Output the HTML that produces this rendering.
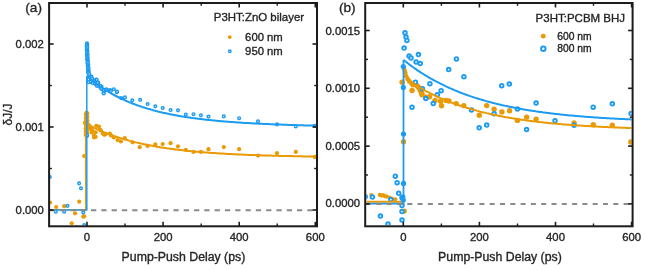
<!DOCTYPE html>
<html><head><meta charset="utf-8"><style>
html,body{margin:0;padding:0;background:#fff;width:645px;height:270px;overflow:hidden}
svg{display:block;filter:blur(0.3px)}
text{font-family:"Liberation Sans",sans-serif;fill:#262626;stroke:#262626;stroke-width:0.35px}
</style></head><body>
<svg width="645" height="270" viewBox="0 0 645 270">
<defs><clipPath id="ca"><rect x="50" y="4" width="266" height="221.3"/></clipPath><clipPath id="cb"><rect x="366.2" y="4" width="265.4" height="221.3"/></clipPath></defs>
<rect width="645" height="270" fill="#fff"/>
<g clip-path="url(#ca)"><circle cx="50.0" cy="202.5" r="2.1" fill="#E99A05"/><circle cx="56.2" cy="207.0" r="2.1" fill="#E99A05"/><circle cx="64.2" cy="206.2" r="2.1" fill="#E99A05"/><circle cx="79.2" cy="201.7" r="2.1" fill="#E99A05"/><circle cx="75.0" cy="213.3" r="2.1" fill="#E99A05"/><circle cx="71.7" cy="223.3" r="2.1" fill="#E99A05"/><circle cx="83.3" cy="216.7" r="2.1" fill="#E99A05"/><circle cx="84.2" cy="216.3" r="2.1" fill="#E99A05"/><circle cx="85.0" cy="122.8" r="2.1" fill="#E99A05"/><circle cx="84.2" cy="156.0" r="2.1" fill="#E99A05"/><circle cx="88.8" cy="125.0" r="2.1" fill="#E99A05"/><circle cx="89.5" cy="128.5" r="2.1" fill="#E99A05"/><circle cx="90.9" cy="127.3" r="2.1" fill="#E99A05"/><circle cx="92.4" cy="130.2" r="2.1" fill="#E99A05"/><circle cx="91.6" cy="132.4" r="2.1" fill="#E99A05"/><circle cx="93.9" cy="135.4" r="2.1" fill="#E99A05"/><circle cx="94.1" cy="137.5" r="2.1" fill="#E99A05"/><circle cx="96.3" cy="125.8" r="2.1" fill="#E99A05"/><circle cx="98.9" cy="126.5" r="2.1" fill="#E99A05"/><circle cx="95.6" cy="132.3" r="2.1" fill="#E99A05"/><circle cx="95.6" cy="136.9" r="2.1" fill="#E99A05"/><circle cx="100.8" cy="130.4" r="2.1" fill="#E99A05"/><circle cx="102.8" cy="133.6" r="2.1" fill="#E99A05"/><circle cx="105.4" cy="134.3" r="2.1" fill="#E99A05"/><circle cx="109.9" cy="133.6" r="2.1" fill="#E99A05"/><circle cx="113.8" cy="137.5" r="2.1" fill="#E99A05"/><circle cx="117.7" cy="140.1" r="2.1" fill="#E99A05"/><circle cx="120.9" cy="141.4" r="2.1" fill="#E99A05"/><circle cx="124.8" cy="138.2" r="2.1" fill="#E99A05"/><circle cx="132.6" cy="142.3" r="2.1" fill="#E99A05"/><circle cx="139.7" cy="147.2" r="2.1" fill="#E99A05"/><circle cx="147.5" cy="145.9" r="2.1" fill="#E99A05"/><circle cx="155.3" cy="144.4" r="2.1" fill="#E99A05"/><circle cx="162.7" cy="144.0" r="2.1" fill="#E99A05"/><circle cx="99.8" cy="129.5" r="2.1" fill="#E99A05"/><circle cx="104.2" cy="134.7" r="2.1" fill="#E99A05"/><circle cx="110.9" cy="135.4" r="2.1" fill="#E99A05"/><circle cx="170.6" cy="143.2" r="2.1" fill="#E99A05"/><circle cx="178.0" cy="146.3" r="2.1" fill="#E99A05"/><circle cx="185.8" cy="149.8" r="2.1" fill="#E99A05"/><circle cx="193.5" cy="151.9" r="2.1" fill="#E99A05"/><circle cx="200.9" cy="151.9" r="2.1" fill="#E99A05"/><circle cx="208.5" cy="149.2" r="2.1" fill="#E99A05"/><circle cx="223.8" cy="147.1" r="2.1" fill="#E99A05"/><circle cx="239.1" cy="149.2" r="2.1" fill="#E99A05"/><circle cx="258.0" cy="155.6" r="2.1" fill="#E99A05"/><circle cx="277.0" cy="153.2" r="2.1" fill="#E99A05"/><circle cx="295.8" cy="151.9" r="2.1" fill="#E99A05"/><circle cx="314.7" cy="156.9" r="2.1" fill="#E99A05"/><circle cx="86.6" cy="112.5" r="2.1" fill="#E99A05"/><circle cx="87.4" cy="113.6" r="2.1" fill="#E99A05"/><circle cx="85.8" cy="114.7" r="2.1" fill="#E99A05"/><circle cx="86.6" cy="115.9" r="2.1" fill="#E99A05"/><circle cx="87.4" cy="117.0" r="2.1" fill="#E99A05"/><circle cx="85.8" cy="118.1" r="2.1" fill="#E99A05"/><circle cx="86.6" cy="119.2" r="2.1" fill="#E99A05"/><circle cx="87.4" cy="120.3" r="2.1" fill="#E99A05"/><circle cx="85.8" cy="121.5" r="2.1" fill="#E99A05"/><circle cx="86.6" cy="122.6" r="2.1" fill="#E99A05"/><circle cx="87.4" cy="123.7" r="2.1" fill="#E99A05"/><circle cx="85.8" cy="124.8" r="2.1" fill="#E99A05"/><circle cx="86.7" cy="125.9" r="2.1" fill="#E99A05"/><circle cx="87.3" cy="127.0" r="2.1" fill="#E99A05"/><circle cx="85.8" cy="128.2" r="2.1" fill="#E99A05"/><circle cx="86.7" cy="129.3" r="2.1" fill="#E99A05"/><circle cx="87.3" cy="130.4" r="2.1" fill="#E99A05"/><circle cx="85.8" cy="131.5" r="2.1" fill="#E99A05"/><circle cx="86.7" cy="132.6" r="2.1" fill="#E99A05"/><circle cx="87.3" cy="133.8" r="2.1" fill="#E99A05"/><circle cx="85.8" cy="134.9" r="2.1" fill="#E99A05"/><circle cx="86.7" cy="136.0" r="2.1" fill="#E99A05"/><circle cx="88.0" cy="72.2" r="1.35" fill="#fff" stroke="#1C9BF2" stroke-width="1.45"/><circle cx="88.0" cy="77.4" r="1.35" fill="#fff" stroke="#1C9BF2" stroke-width="1.45"/><circle cx="90.9" cy="78.9" r="1.35" fill="#fff" stroke="#1C9BF2" stroke-width="1.45"/><circle cx="90.2" cy="81.8" r="1.35" fill="#fff" stroke="#1C9BF2" stroke-width="1.45"/><circle cx="93.9" cy="80.4" r="1.35" fill="#fff" stroke="#1C9BF2" stroke-width="1.45"/><circle cx="96.1" cy="79.6" r="1.35" fill="#fff" stroke="#1C9BF2" stroke-width="1.45"/><circle cx="95.4" cy="84.0" r="1.35" fill="#fff" stroke="#1C9BF2" stroke-width="1.45"/><circle cx="98.3" cy="82.6" r="1.35" fill="#fff" stroke="#1C9BF2" stroke-width="1.45"/><circle cx="100.5" cy="87.8" r="1.35" fill="#fff" stroke="#1C9BF2" stroke-width="1.45"/><circle cx="102.0" cy="89.2" r="1.35" fill="#fff" stroke="#1C9BF2" stroke-width="1.45"/><circle cx="104.2" cy="90.7" r="1.35" fill="#fff" stroke="#1C9BF2" stroke-width="1.45"/><circle cx="103.5" cy="92.9" r="1.35" fill="#fff" stroke="#1C9BF2" stroke-width="1.45"/><circle cx="106.4" cy="89.2" r="1.35" fill="#fff" stroke="#1C9BF2" stroke-width="1.45"/><circle cx="110.1" cy="90.0" r="1.35" fill="#fff" stroke="#1C9BF2" stroke-width="1.45"/><circle cx="113.8" cy="89.2" r="1.35" fill="#fff" stroke="#1C9BF2" stroke-width="1.45"/><circle cx="116.8" cy="92.2" r="1.35" fill="#fff" stroke="#1C9BF2" stroke-width="1.45"/><circle cx="121.2" cy="98.1" r="1.35" fill="#fff" stroke="#1C9BF2" stroke-width="1.45"/><circle cx="124.9" cy="97.4" r="1.35" fill="#fff" stroke="#1C9BF2" stroke-width="1.45"/><circle cx="132.3" cy="100.3" r="1.35" fill="#fff" stroke="#1C9BF2" stroke-width="1.45"/><circle cx="109.6" cy="90.6" r="1.35" fill="#fff" stroke="#1C9BF2" stroke-width="1.45"/><circle cx="117.0" cy="91.5" r="1.35" fill="#fff" stroke="#1C9BF2" stroke-width="1.45"/><circle cx="140.2" cy="99.8" r="1.35" fill="#fff" stroke="#1C9BF2" stroke-width="1.45"/><circle cx="147.6" cy="104.0" r="1.35" fill="#fff" stroke="#1C9BF2" stroke-width="1.45"/><circle cx="89.5" cy="75.5" r="1.35" fill="#fff" stroke="#1C9BF2" stroke-width="1.45"/><circle cx="91.5" cy="76.5" r="1.35" fill="#fff" stroke="#1C9BF2" stroke-width="1.45"/><circle cx="92.5" cy="83.0" r="1.35" fill="#fff" stroke="#1C9BF2" stroke-width="1.45"/><circle cx="97.0" cy="86.0" r="1.35" fill="#fff" stroke="#1C9BF2" stroke-width="1.45"/><circle cx="99.0" cy="85.5" r="1.35" fill="#fff" stroke="#1C9BF2" stroke-width="1.45"/><circle cx="101.5" cy="86.5" r="1.35" fill="#fff" stroke="#1C9BF2" stroke-width="1.45"/><circle cx="89.5" cy="77.5" r="1.35" fill="#fff" stroke="#1C9BF2" stroke-width="1.45"/><circle cx="90.7" cy="81.6" r="1.35" fill="#fff" stroke="#1C9BF2" stroke-width="1.45"/><circle cx="94.9" cy="83.4" r="1.35" fill="#fff" stroke="#1C9BF2" stroke-width="1.45"/><circle cx="96.7" cy="79.8" r="1.35" fill="#fff" stroke="#1C9BF2" stroke-width="1.45"/><circle cx="97.8" cy="82.8" r="1.35" fill="#fff" stroke="#1C9BF2" stroke-width="1.45"/><circle cx="100.2" cy="85.8" r="1.35" fill="#fff" stroke="#1C9BF2" stroke-width="1.45"/><circle cx="101.4" cy="88.7" r="1.35" fill="#fff" stroke="#1C9BF2" stroke-width="1.45"/><circle cx="103.8" cy="89.9" r="1.35" fill="#fff" stroke="#1C9BF2" stroke-width="1.45"/><circle cx="88.4" cy="82.2" r="1.35" fill="#fff" stroke="#1C9BF2" stroke-width="1.45"/><circle cx="92.0" cy="78.5" r="1.35" fill="#fff" stroke="#1C9BF2" stroke-width="1.45"/><circle cx="93.0" cy="81.0" r="1.35" fill="#fff" stroke="#1C9BF2" stroke-width="1.45"/><circle cx="88.6" cy="79.5" r="1.35" fill="#fff" stroke="#1C9BF2" stroke-width="1.45"/><circle cx="103.8" cy="93.4" r="1.35" fill="#fff" stroke="#1C9BF2" stroke-width="1.45"/><circle cx="106.7" cy="89.9" r="1.35" fill="#fff" stroke="#1C9BF2" stroke-width="1.45"/><circle cx="110.9" cy="91.1" r="1.35" fill="#fff" stroke="#1C9BF2" stroke-width="1.45"/><circle cx="155.3" cy="106.3" r="1.35" fill="#fff" stroke="#1C9BF2" stroke-width="1.45"/><circle cx="162.7" cy="108.0" r="1.35" fill="#fff" stroke="#1C9BF2" stroke-width="1.45"/><circle cx="170.6" cy="110.0" r="1.35" fill="#fff" stroke="#1C9BF2" stroke-width="1.45"/><circle cx="178.0" cy="110.3" r="1.35" fill="#fff" stroke="#1C9BF2" stroke-width="1.45"/><circle cx="185.8" cy="114.5" r="1.35" fill="#fff" stroke="#1C9BF2" stroke-width="1.45"/><circle cx="193.5" cy="114.2" r="1.35" fill="#fff" stroke="#1C9BF2" stroke-width="1.45"/><circle cx="200.9" cy="115.3" r="1.35" fill="#fff" stroke="#1C9BF2" stroke-width="1.45"/><circle cx="208.5" cy="116.6" r="1.35" fill="#fff" stroke="#1C9BF2" stroke-width="1.45"/><circle cx="223.8" cy="116.4" r="1.35" fill="#fff" stroke="#1C9BF2" stroke-width="1.45"/><circle cx="239.1" cy="118.2" r="1.35" fill="#fff" stroke="#1C9BF2" stroke-width="1.45"/><circle cx="258.0" cy="121.4" r="1.35" fill="#fff" stroke="#1C9BF2" stroke-width="1.45"/><circle cx="277.0" cy="124.3" r="1.35" fill="#fff" stroke="#1C9BF2" stroke-width="1.45"/><circle cx="295.8" cy="126.4" r="1.35" fill="#fff" stroke="#1C9BF2" stroke-width="1.45"/><circle cx="314.7" cy="125.8" r="1.35" fill="#fff" stroke="#1C9BF2" stroke-width="1.45"/><circle cx="79.1" cy="183.3" r="1.35" fill="#fff" stroke="#1C9BF2" stroke-width="1.45"/><circle cx="81.0" cy="188.3" r="1.35" fill="#fff" stroke="#1C9BF2" stroke-width="1.45"/><circle cx="67.5" cy="205.8" r="1.35" fill="#fff" stroke="#1C9BF2" stroke-width="1.45"/><circle cx="55.8" cy="211.7" r="1.35" fill="#fff" stroke="#1C9BF2" stroke-width="1.45"/><circle cx="64.2" cy="211.7" r="1.35" fill="#fff" stroke="#1C9BF2" stroke-width="1.45"/><circle cx="83.3" cy="212.5" r="1.35" fill="#fff" stroke="#1C9BF2" stroke-width="1.45"/><circle cx="84.2" cy="225.0" r="1.35" fill="#fff" stroke="#1C9BF2" stroke-width="1.45"/><circle cx="87.2" cy="135.4" r="1.35" fill="#fff" stroke="#1C9BF2" stroke-width="1.45"/><circle cx="49.7" cy="177.0" r="1.35" fill="#fff" stroke="#1C9BF2" stroke-width="1.45"/><circle cx="87.0" cy="43.3" r="1.35" fill="#fff" stroke="#1C9BF2" stroke-width="1.45"/><circle cx="87.3" cy="44.5" r="1.35" fill="#fff" stroke="#1C9BF2" stroke-width="1.45"/><circle cx="86.6" cy="45.8" r="1.35" fill="#fff" stroke="#1C9BF2" stroke-width="1.45"/><circle cx="87.3" cy="47.0" r="1.35" fill="#fff" stroke="#1C9BF2" stroke-width="1.45"/><circle cx="87.2" cy="48.2" r="1.35" fill="#fff" stroke="#1C9BF2" stroke-width="1.45"/><circle cx="86.7" cy="49.4" r="1.35" fill="#fff" stroke="#1C9BF2" stroke-width="1.45"/><circle cx="87.5" cy="50.7" r="1.35" fill="#fff" stroke="#1C9BF2" stroke-width="1.45"/><circle cx="87.0" cy="51.9" r="1.35" fill="#fff" stroke="#1C9BF2" stroke-width="1.45"/><circle cx="87.0" cy="53.1" r="1.35" fill="#fff" stroke="#1C9BF2" stroke-width="1.45"/><circle cx="87.7" cy="54.4" r="1.35" fill="#fff" stroke="#1C9BF2" stroke-width="1.45"/><circle cx="86.9" cy="55.6" r="1.35" fill="#fff" stroke="#1C9BF2" stroke-width="1.45"/><circle cx="87.4" cy="56.8" r="1.35" fill="#fff" stroke="#1C9BF2" stroke-width="1.45"/><circle cx="87.7" cy="58.0" r="1.35" fill="#fff" stroke="#1C9BF2" stroke-width="1.45"/><circle cx="87.0" cy="59.3" r="1.35" fill="#fff" stroke="#1C9BF2" stroke-width="1.45"/><circle cx="87.9" cy="60.5" r="1.35" fill="#fff" stroke="#1C9BF2" stroke-width="1.45"/><circle cx="87.7" cy="61.7" r="1.35" fill="#fff" stroke="#1C9BF2" stroke-width="1.45"/><circle cx="87.4" cy="62.9" r="1.35" fill="#fff" stroke="#1C9BF2" stroke-width="1.45"/><circle cx="88.3" cy="64.2" r="1.35" fill="#fff" stroke="#1C9BF2" stroke-width="1.45"/><circle cx="87.7" cy="65.4" r="1.35" fill="#fff" stroke="#1C9BF2" stroke-width="1.45"/><circle cx="87.9" cy="66.6" r="1.35" fill="#fff" stroke="#1C9BF2" stroke-width="1.45"/><circle cx="88.6" cy="67.9" r="1.35" fill="#fff" stroke="#1C9BF2" stroke-width="1.45"/><circle cx="87.9" cy="69.1" r="1.35" fill="#fff" stroke="#1C9BF2" stroke-width="1.45"/><circle cx="88.5" cy="70.3" r="1.35" fill="#fff" stroke="#1C9BF2" stroke-width="1.45"/><circle cx="88.7" cy="71.5" r="1.35" fill="#fff" stroke="#1C9BF2" stroke-width="1.45"/><circle cx="88.2" cy="72.8" r="1.35" fill="#fff" stroke="#1C9BF2" stroke-width="1.45"/><circle cx="89.2" cy="74.0" r="1.35" fill="#fff" stroke="#1C9BF2" stroke-width="1.45"/><polyline points="50,209.6 85.6,209.6 85.6,124.1" fill="none" stroke="#E99A05" stroke-width="1.3"/><polyline points="87.0,124.1 88.0,124.6 89.0,125.2 90.0,125.7 91.0,126.2 92.0,126.7 93.0,127.2 94.0,127.7 95.0,128.2 96.0,128.6 97.0,129.1 98.0,129.6 99.0,130.0 100.0,130.5 101.0,130.9 102.0,131.3 103.0,131.8 104.0,132.2 105.0,132.6 106.0,133.0 107.0,133.4 108.0,133.8 109.0,134.1 110.0,134.5 111.0,134.9 112.0,135.2 113.0,135.6 114.0,136.0 115.0,136.3 116.0,136.6 117.0,137.0 118.0,137.3 119.0,137.6 120.0,137.9 121.0,138.3 122.0,138.6 123.0,138.9 124.0,139.2 125.0,139.5 126.0,139.8 127.0,140.0 128.0,140.3 129.0,140.6 130.0,140.9 131.0,141.1 132.0,141.4 133.0,141.6 134.0,141.9 135.0,142.1 136.0,142.4 137.0,142.6 138.0,142.9 139.0,143.1 140.0,143.3 141.0,143.6 142.0,143.8 143.0,144.0 144.0,144.2 145.0,144.4 146.0,144.6 147.0,144.8 148.0,145.0 149.0,145.2 150.0,145.4 151.0,145.6 152.0,145.8 153.0,146.0 154.0,146.2 155.0,146.3 156.0,146.5 157.0,146.7 158.0,146.9 159.0,147.0 160.0,147.2 161.0,147.4 162.0,147.5 163.0,147.7 164.0,147.8 165.0,148.0 166.0,148.1 167.0,148.3 168.0,148.4 169.0,148.6 170.0,148.7 171.0,148.8 172.0,149.0 173.0,149.1 174.0,149.2 175.0,149.4 176.0,149.5 177.0,149.6 178.0,149.7 179.0,149.9 180.0,150.0 181.0,150.1 182.0,150.2 183.0,150.3 184.0,150.4 185.0,150.6 186.0,150.7 187.0,150.8 188.0,150.9 189.0,151.0 190.0,151.1 191.0,151.2 192.0,151.3 193.0,151.4 194.0,151.5 195.0,151.6 196.0,151.7 197.0,151.7 198.0,151.8 199.0,151.9 200.0,152.0 201.0,152.1 202.0,152.2 203.0,152.3 204.0,152.3 205.0,152.4 206.0,152.5 207.0,152.6 208.0,152.6 209.0,152.7 210.0,152.8 211.0,152.9 212.0,152.9 213.0,153.0 214.0,153.1 215.0,153.1 216.0,153.2 217.0,153.3 218.0,153.3 219.0,153.4 220.0,153.5 221.0,153.5 222.0,153.6 223.0,153.6 224.0,153.7 225.0,153.8 226.0,153.8 227.0,153.9 228.0,153.9 229.0,154.0 230.0,154.0 231.0,154.1 232.0,154.1 233.0,154.2 234.0,154.2 235.0,154.3 236.0,154.3 237.0,154.4 238.0,154.4 239.0,154.5 240.0,154.5 241.0,154.6 242.0,154.6 243.0,154.7 244.0,154.7 245.0,154.7 246.0,154.8 247.0,154.8 248.0,154.9 249.0,154.9 250.0,154.9 251.0,155.0 252.0,155.0 253.0,155.1 254.0,155.1 255.0,155.1 256.0,155.2 257.0,155.2 258.0,155.2 259.0,155.3 260.0,155.3 261.0,155.3 262.0,155.4 263.0,155.4 264.0,155.4 265.0,155.5 266.0,155.5 267.0,155.5 268.0,155.6 269.0,155.6 270.0,155.6 271.0,155.6 272.0,155.7 273.0,155.7 274.0,155.7 275.0,155.8 276.0,155.8 277.0,155.8 278.0,155.8 279.0,155.9 280.0,155.9 281.0,155.9 282.0,155.9 283.0,156.0 284.0,156.0 285.0,156.0 286.0,156.0 287.0,156.0 288.0,156.1 289.0,156.1 290.0,156.1 291.0,156.1 292.0,156.1 293.0,156.2 294.0,156.2 295.0,156.2 296.0,156.2 297.0,156.2 298.0,156.3 299.0,156.3 300.0,156.3 301.0,156.3 302.0,156.3 303.0,156.4 304.0,156.4 305.0,156.4 306.0,156.4 307.0,156.4 308.0,156.4 309.0,156.5 310.0,156.5 311.0,156.5 312.0,156.5 313.0,156.5 314.0,156.5 315.0,156.6 316.0,156.6" fill="none" stroke="#E99A05" stroke-width="2.0"/><polyline points="50,210 86.8,210 86.8,76.3" fill="none" stroke="#1C9BF2" stroke-width="1.5"/><polyline points="87.0,76.3 88.0,77.1 89.0,78.0 90.0,78.8 91.0,79.6 92.0,80.4 93.0,81.2 94.0,82.0 95.0,82.8 96.0,83.5 97.0,84.2 98.0,85.0 99.0,85.7 100.0,86.4 101.0,87.1 102.0,87.7 103.0,88.4 104.0,89.0 105.0,89.7 106.0,90.3 107.0,90.9 108.0,91.5 109.0,92.1 110.0,92.7 111.0,93.3 112.0,93.9 113.0,94.4 114.0,95.0 115.0,95.5 116.0,96.0 117.0,96.5 118.0,97.0 119.0,97.5 120.0,98.0 121.0,98.5 122.0,99.0 123.0,99.4 124.0,99.9 125.0,100.3 126.0,100.8 127.0,101.2 128.0,101.6 129.0,102.1 130.0,102.5 131.0,102.9 132.0,103.3 133.0,103.7 134.0,104.0 135.0,104.4 136.0,104.8 137.0,105.2 138.0,105.5 139.0,105.9 140.0,106.2 141.0,106.5 142.0,106.9 143.0,107.2 144.0,107.5 145.0,107.8 146.0,108.1 147.0,108.5 148.0,108.8 149.0,109.0 150.0,109.3 151.0,109.6 152.0,109.9 153.0,110.2 154.0,110.4 155.0,110.7 156.0,111.0 157.0,111.2 158.0,111.5 159.0,111.7 160.0,112.0 161.0,112.2 162.0,112.4 163.0,112.7 164.0,112.9 165.0,113.1 166.0,113.3 167.0,113.6 168.0,113.8 169.0,114.0 170.0,114.2 171.0,114.4 172.0,114.6 173.0,114.8 174.0,115.0 175.0,115.2 176.0,115.3 177.0,115.5 178.0,115.7 179.0,115.9 180.0,116.1 181.0,116.2 182.0,116.4 183.0,116.6 184.0,116.7 185.0,116.9 186.0,117.0 187.0,117.2 188.0,117.3 189.0,117.5 190.0,117.6 191.0,117.8 192.0,117.9 193.0,118.1 194.0,118.2 195.0,118.3 196.0,118.5 197.0,118.6 198.0,118.7 199.0,118.8 200.0,119.0 201.0,119.1 202.0,119.2 203.0,119.3 204.0,119.4 205.0,119.6 206.0,119.7 207.0,119.8 208.0,119.9 209.0,120.0 210.0,120.1 211.0,120.2 212.0,120.3 213.0,120.4 214.0,120.5 215.0,120.6 216.0,120.7 217.0,120.8 218.0,120.9 219.0,121.0 220.0,121.1 221.0,121.2 222.0,121.2 223.0,121.3 224.0,121.4 225.0,121.5 226.0,121.6 227.0,121.7 228.0,121.7 229.0,121.8 230.0,121.9 231.0,122.0 232.0,122.0 233.0,122.1 234.0,122.2 235.0,122.3 236.0,122.3 237.0,122.4 238.0,122.5 239.0,122.5 240.0,122.6 241.0,122.7 242.0,122.7 243.0,122.8 244.0,122.9 245.0,122.9 246.0,123.0 247.0,123.0 248.0,123.1 249.0,123.1 250.0,123.2 251.0,123.3 252.0,123.3 253.0,123.4 254.0,123.4 255.0,123.5 256.0,123.5 257.0,123.6 258.0,123.6 259.0,123.7 260.0,123.7 261.0,123.8 262.0,123.8 263.0,123.9 264.0,123.9 265.0,124.0 266.0,124.0 267.0,124.1 268.0,124.1 269.0,124.1 270.0,124.2 271.0,124.2 272.0,124.3 273.0,124.3 274.0,124.4 275.0,124.4 276.0,124.4 277.0,124.5 278.0,124.5 279.0,124.5 280.0,124.6 281.0,124.6 282.0,124.7 283.0,124.7 284.0,124.7 285.0,124.8 286.0,124.8 287.0,124.8 288.0,124.9 289.0,124.9 290.0,124.9 291.0,125.0 292.0,125.0 293.0,125.0 294.0,125.1 295.0,125.1 296.0,125.1 297.0,125.2 298.0,125.2 299.0,125.2 300.0,125.2 301.0,125.3 302.0,125.3 303.0,125.3 304.0,125.4 305.0,125.4 306.0,125.4 307.0,125.4 308.0,125.5 309.0,125.5 310.0,125.5 311.0,125.6 312.0,125.6 313.0,125.6 314.0,125.6 315.0,125.7 316.0,125.7" fill="none" stroke="#1C9BF2" stroke-width="2.0"/></g><g clip-path="url(#cb)"><circle cx="415.5" cy="84.4" r="2.7" fill="#E99A05"/><circle cx="417.3" cy="85.9" r="2.7" fill="#E99A05"/><circle cx="418.7" cy="87.4" r="2.7" fill="#E99A05"/><circle cx="412.1" cy="90.4" r="2.7" fill="#E99A05"/><circle cx="420.2" cy="90.4" r="2.7" fill="#E99A05"/><circle cx="421.7" cy="93.3" r="2.7" fill="#E99A05"/><circle cx="402.1" cy="82.2" r="2.7" fill="#E99A05"/><circle cx="422.0" cy="94.8" r="2.7" fill="#E99A05"/><circle cx="429.5" cy="96.7" r="2.7" fill="#E99A05"/><circle cx="425.8" cy="97.2" r="2.7" fill="#E99A05"/><circle cx="435.0" cy="100.4" r="2.7" fill="#E99A05"/><circle cx="440.6" cy="101.3" r="2.7" fill="#E99A05"/><circle cx="446.0" cy="100.4" r="2.7" fill="#E99A05"/><circle cx="441.5" cy="105.7" r="2.7" fill="#E99A05"/><circle cx="456.2" cy="103.6" r="2.7" fill="#E99A05"/><circle cx="463.8" cy="105.6" r="2.7" fill="#E99A05"/><circle cx="479.3" cy="115.2" r="2.7" fill="#E99A05"/><circle cx="486.7" cy="105.6" r="2.7" fill="#E99A05"/><circle cx="494.1" cy="109.3" r="2.7" fill="#E99A05"/><circle cx="501.9" cy="111.9" r="2.7" fill="#E99A05"/><circle cx="509.6" cy="110.7" r="2.7" fill="#E99A05"/><circle cx="517.4" cy="120.4" r="2.7" fill="#E99A05"/><circle cx="526.7" cy="117.1" r="2.7" fill="#E99A05"/><circle cx="536.1" cy="119.1" r="2.7" fill="#E99A05"/><circle cx="574.1" cy="123.0" r="2.7" fill="#E99A05"/><circle cx="593.2" cy="124.7" r="2.7" fill="#E99A05"/><circle cx="612.3" cy="125.2" r="2.7" fill="#E99A05"/><circle cx="630.8" cy="142.0" r="2.7" fill="#E99A05"/><circle cx="448.9" cy="101.0" r="2.7" fill="#E99A05"/><circle cx="403.5" cy="141.8" r="2.7" fill="#E99A05"/><circle cx="404.2" cy="211.1" r="2.7" fill="#E99A05"/><circle cx="403.9" cy="68.1" r="2.2" fill="#E99A05"/><circle cx="404.7" cy="70.4" r="2.2" fill="#E99A05"/><circle cx="405.4" cy="72.6" r="2.2" fill="#E99A05"/><circle cx="406.1" cy="76.3" r="2.2" fill="#E99A05"/><circle cx="407.6" cy="79.3" r="2.2" fill="#E99A05"/><circle cx="409.1" cy="81.5" r="2.2" fill="#E99A05"/><circle cx="411.3" cy="83.7" r="2.2" fill="#E99A05"/><circle cx="412.8" cy="85.2" r="2.2" fill="#E99A05"/><circle cx="371.3" cy="195.1" r="2.1" fill="#E99A05"/><circle cx="379.8" cy="194.9" r="2.1" fill="#E99A05"/><circle cx="381.6" cy="195.6" r="2.1" fill="#E99A05"/><circle cx="383.1" cy="195.1" r="2.1" fill="#E99A05"/><circle cx="384.9" cy="196.2" r="2.1" fill="#E99A05"/><circle cx="386.9" cy="196.7" r="2.1" fill="#E99A05"/><circle cx="389.8" cy="197.8" r="2.1" fill="#E99A05"/><circle cx="392.0" cy="198.9" r="2.1" fill="#E99A05"/><circle cx="395.3" cy="199.3" r="2.1" fill="#E99A05"/><circle cx="405.0" cy="32.8" r="1.8" fill="#fff" stroke="#1C9BF2" stroke-width="1.9"/><circle cx="406.0" cy="37.0" r="1.8" fill="#fff" stroke="#1C9BF2" stroke-width="1.9"/><circle cx="406.9" cy="40.4" r="1.8" fill="#fff" stroke="#1C9BF2" stroke-width="1.9"/><circle cx="404.1" cy="48.1" r="1.8" fill="#fff" stroke="#1C9BF2" stroke-width="1.9"/><circle cx="409.1" cy="56.1" r="1.8" fill="#fff" stroke="#1C9BF2" stroke-width="1.9"/><circle cx="411.0" cy="58.0" r="1.8" fill="#fff" stroke="#1C9BF2" stroke-width="1.9"/><circle cx="418.4" cy="54.6" r="1.8" fill="#fff" stroke="#1C9BF2" stroke-width="1.9"/><circle cx="416.1" cy="62.0" r="1.8" fill="#fff" stroke="#1C9BF2" stroke-width="1.9"/><circle cx="420.2" cy="63.5" r="1.8" fill="#fff" stroke="#1C9BF2" stroke-width="1.9"/><circle cx="412.0" cy="107.2" r="1.8" fill="#fff" stroke="#1C9BF2" stroke-width="1.9"/><circle cx="415.4" cy="82.2" r="1.8" fill="#fff" stroke="#1C9BF2" stroke-width="1.9"/><circle cx="422.4" cy="88.7" r="1.8" fill="#fff" stroke="#1C9BF2" stroke-width="1.9"/><circle cx="429.9" cy="83.7" r="1.8" fill="#fff" stroke="#1C9BF2" stroke-width="1.9"/><circle cx="441.1" cy="90.7" r="1.8" fill="#fff" stroke="#1C9BF2" stroke-width="1.9"/><circle cx="437.3" cy="94.8" r="1.8" fill="#fff" stroke="#1C9BF2" stroke-width="1.9"/><circle cx="425.8" cy="98.5" r="1.8" fill="#fff" stroke="#1C9BF2" stroke-width="1.9"/><circle cx="433.2" cy="103.5" r="1.8" fill="#fff" stroke="#1C9BF2" stroke-width="1.9"/><circle cx="456.4" cy="58.9" r="1.8" fill="#fff" stroke="#1C9BF2" stroke-width="1.9"/><circle cx="448.7" cy="69.6" r="1.8" fill="#fff" stroke="#1C9BF2" stroke-width="1.9"/><circle cx="463.9" cy="76.7" r="1.8" fill="#fff" stroke="#1C9BF2" stroke-width="1.9"/><circle cx="471.5" cy="110.0" r="1.8" fill="#fff" stroke="#1C9BF2" stroke-width="1.9"/><circle cx="494.1" cy="113.7" r="1.8" fill="#fff" stroke="#1C9BF2" stroke-width="1.9"/><circle cx="479.2" cy="127.8" r="1.8" fill="#fff" stroke="#1C9BF2" stroke-width="1.9"/><circle cx="486.7" cy="125.1" r="1.8" fill="#fff" stroke="#1C9BF2" stroke-width="1.9"/><circle cx="501.7" cy="85.7" r="1.8" fill="#fff" stroke="#1C9BF2" stroke-width="1.9"/><circle cx="509.3" cy="84.0" r="1.8" fill="#fff" stroke="#1C9BF2" stroke-width="1.9"/><circle cx="517.4" cy="109.0" r="1.8" fill="#fff" stroke="#1C9BF2" stroke-width="1.9"/><circle cx="526.6" cy="129.5" r="1.8" fill="#fff" stroke="#1C9BF2" stroke-width="1.9"/><circle cx="536.1" cy="103.1" r="1.8" fill="#fff" stroke="#1C9BF2" stroke-width="1.9"/><circle cx="555.0" cy="120.8" r="1.8" fill="#fff" stroke="#1C9BF2" stroke-width="1.9"/><circle cx="574.1" cy="125.3" r="1.8" fill="#fff" stroke="#1C9BF2" stroke-width="1.9"/><circle cx="593.2" cy="107.2" r="1.8" fill="#fff" stroke="#1C9BF2" stroke-width="1.9"/><circle cx="612.3" cy="103.8" r="1.8" fill="#fff" stroke="#1C9BF2" stroke-width="1.9"/><circle cx="631.1" cy="113.6" r="1.8" fill="#fff" stroke="#1C9BF2" stroke-width="1.9"/><circle cx="395.3" cy="176.2" r="1.8" fill="#fff" stroke="#1C9BF2" stroke-width="1.9"/><circle cx="397.1" cy="182.7" r="1.8" fill="#fff" stroke="#1C9BF2" stroke-width="1.9"/><circle cx="398.7" cy="193.3" r="1.8" fill="#fff" stroke="#1C9BF2" stroke-width="1.9"/><circle cx="365.3" cy="196.7" r="1.8" fill="#fff" stroke="#1C9BF2" stroke-width="1.9"/><circle cx="372.4" cy="197.1" r="1.8" fill="#fff" stroke="#1C9BF2" stroke-width="1.9"/><circle cx="390.9" cy="199.6" r="1.8" fill="#fff" stroke="#1C9BF2" stroke-width="1.9"/><circle cx="402.0" cy="197.8" r="1.8" fill="#fff" stroke="#1C9BF2" stroke-width="1.9"/><circle cx="402.0" cy="205.6" r="1.8" fill="#fff" stroke="#1C9BF2" stroke-width="1.9"/><circle cx="402.0" cy="211.6" r="1.8" fill="#fff" stroke="#1C9BF2" stroke-width="1.9"/><circle cx="380.4" cy="216.0" r="1.8" fill="#fff" stroke="#1C9BF2" stroke-width="1.9"/><circle cx="388.0" cy="224.0" r="1.8" fill="#fff" stroke="#1C9BF2" stroke-width="1.9"/><circle cx="402.0" cy="220.0" r="1.8" fill="#fff" stroke="#1C9BF2" stroke-width="1.9"/><polyline points="366.5,201.7 403.5,201.7" fill="none" stroke="#E99A05" stroke-width="2.0"/><polyline points="403.5,201.7 403.5,65.0" fill="none" stroke="#E99A05" stroke-width="1.0"/><polyline points="403.5,65.0 404.5,69.1 405.5,72.1 406.5,74.6 407.5,76.5 408.5,78.1 409.5,79.5 410.5,80.6 411.5,81.6 412.5,82.5 413.5,83.3 414.5,84.1 415.5,84.8 416.5,85.5 417.5,86.2 418.5,86.8 419.5,87.4 420.5,88.0 421.5,88.6 422.5,89.2 423.5,89.7 424.5,90.3 425.5,90.8 426.5,91.4 427.5,91.9 428.5,92.4 429.5,92.9 430.5,93.4 431.5,93.9 432.5,94.4 433.5,94.9 434.5,95.4 435.5,95.9 436.5,96.3 437.5,96.8 438.5,97.2 439.5,97.7 440.5,98.1 441.5,98.6 442.5,99.0 443.5,99.4 444.5,99.8 445.5,100.2 446.5,100.6 447.5,101.0 448.5,101.4 449.5,101.8 450.5,102.2 451.5,102.6 452.5,103.0 453.5,103.3 454.5,103.7 455.5,104.1 456.5,104.4 457.5,104.8 458.5,105.1 459.5,105.5 460.5,105.8 461.5,106.1 462.5,106.5 463.5,106.8 464.5,107.1 465.5,107.4 466.5,107.7 467.5,108.0 468.5,108.3 469.5,108.6 470.5,108.9 471.5,109.2 472.5,109.5 473.5,109.8 474.5,110.1 475.5,110.3 476.5,110.6 477.5,110.9 478.5,111.1 479.5,111.4 480.5,111.7 481.5,111.9 482.5,112.2 483.5,112.4 484.5,112.6 485.5,112.9 486.5,113.1 487.5,113.4 488.5,113.6 489.5,113.8 490.5,114.0 491.5,114.3 492.5,114.5 493.5,114.7 494.5,114.9 495.5,115.1 496.5,115.3 497.5,115.5 498.5,115.7 499.5,115.9 500.5,116.1 501.5,116.3 502.5,116.5 503.5,116.7 504.5,116.9 505.5,117.1 506.5,117.2 507.5,117.4 508.5,117.6 509.5,117.8 510.5,117.9 511.5,118.1 512.5,118.3 513.5,118.4 514.5,118.6 515.5,118.8 516.5,118.9 517.5,119.1 518.5,119.2 519.5,119.4 520.5,119.5 521.5,119.7 522.5,119.8 523.5,120.0 524.5,120.1 525.5,120.2 526.5,120.4 527.5,120.5 528.5,120.7 529.5,120.8 530.5,120.9 531.5,121.0 532.5,121.2 533.5,121.3 534.5,121.4 535.5,121.5 536.5,121.7 537.5,121.8 538.5,121.9 539.5,122.0 540.5,122.1 541.5,122.2 542.5,122.3 543.5,122.5 544.5,122.6 545.5,122.7 546.5,122.8 547.5,122.9 548.5,123.0 549.5,123.1 550.5,123.2 551.5,123.3 552.5,123.4 553.5,123.5 554.5,123.6 555.5,123.7 556.5,123.8 557.5,123.8 558.5,123.9 559.5,124.0 560.5,124.1 561.5,124.2 562.5,124.3 563.5,124.4 564.5,124.4 565.5,124.5 566.5,124.6 567.5,124.7 568.5,124.8 569.5,124.8 570.5,124.9 571.5,125.0 572.5,125.1 573.5,125.1 574.5,125.2 575.5,125.3 576.5,125.3 577.5,125.4 578.5,125.5 579.5,125.6 580.5,125.6 581.5,125.7 582.5,125.7 583.5,125.8 584.5,125.9 585.5,125.9 586.5,126.0 587.5,126.1 588.5,126.1 589.5,126.2 590.5,126.2 591.5,126.3 592.5,126.3 593.5,126.4 594.5,126.5 595.5,126.5 596.5,126.6 597.5,126.6 598.5,126.7 599.5,126.7 600.5,126.8 601.5,126.8 602.5,126.9 603.5,126.9 604.5,127.0 605.5,127.0 606.5,127.1 607.5,127.1 608.5,127.2 609.5,127.2 610.5,127.2 611.5,127.3 612.5,127.3 613.5,127.4 614.5,127.4 615.5,127.5 616.5,127.5 617.5,127.5 618.5,127.6 619.5,127.6 620.5,127.7 621.5,127.7 622.5,127.7 623.5,127.8 624.5,127.8 625.5,127.8 626.5,127.9 627.5,127.9 628.5,127.9 629.5,128.0 630.5,128.0 631.5,128.0" fill="none" stroke="#E99A05" stroke-width="2.0"/><polyline points="366.5,203.7 403.5,203.7 403.5,59.9" fill="none" stroke="#1C9BF2" stroke-width="1.8"/><polyline points="403.5,59.9 404.5,60.7 405.5,61.5 406.5,62.3 407.5,63.1 408.5,63.8 409.5,64.6 410.5,65.3 411.5,66.1 412.5,66.8 413.5,67.5 414.5,68.2 415.5,68.9 416.5,69.6 417.5,70.3 418.5,70.9 419.5,71.6 420.5,72.3 421.5,72.9 422.5,73.5 423.5,74.2 424.5,74.8 425.5,75.4 426.5,76.0 427.5,76.6 428.5,77.2 429.5,77.8 430.5,78.4 431.5,78.9 432.5,79.5 433.5,80.0 434.5,80.6 435.5,81.1 436.5,81.7 437.5,82.2 438.5,82.7 439.5,83.2 440.5,83.7 441.5,84.2 442.5,84.7 443.5,85.2 444.5,85.7 445.5,86.2 446.5,86.6 447.5,87.1 448.5,87.5 449.5,88.0 450.5,88.4 451.5,88.9 452.5,89.3 453.5,89.7 454.5,90.2 455.5,90.6 456.5,91.0 457.5,91.4 458.5,91.8 459.5,92.2 460.5,92.6 461.5,93.0 462.5,93.4 463.5,93.7 464.5,94.1 465.5,94.5 466.5,94.8 467.5,95.2 468.5,95.5 469.5,95.9 470.5,96.2 471.5,96.6 472.5,96.9 473.5,97.2 474.5,97.6 475.5,97.9 476.5,98.2 477.5,98.5 478.5,98.8 479.5,99.1 480.5,99.4 481.5,99.7 482.5,100.0 483.5,100.3 484.5,100.6 485.5,100.9 486.5,101.2 487.5,101.4 488.5,101.7 489.5,102.0 490.5,102.3 491.5,102.5 492.5,102.8 493.5,103.0 494.5,103.3 495.5,103.5 496.5,103.8 497.5,104.0 498.5,104.3 499.5,104.5 500.5,104.7 501.5,105.0 502.5,105.2 503.5,105.4 504.5,105.6 505.5,105.9 506.5,106.1 507.5,106.3 508.5,106.5 509.5,106.7 510.5,106.9 511.5,107.1 512.5,107.3 513.5,107.5 514.5,107.7 515.5,107.9 516.5,108.1 517.5,108.3 518.5,108.5 519.5,108.6 520.5,108.8 521.5,109.0 522.5,109.2 523.5,109.4 524.5,109.5 525.5,109.7 526.5,109.9 527.5,110.0 528.5,110.2 529.5,110.4 530.5,110.5 531.5,110.7 532.5,110.8 533.5,111.0 534.5,111.1 535.5,111.3 536.5,111.4 537.5,111.6 538.5,111.7 539.5,111.9 540.5,112.0 541.5,112.1 542.5,112.3 543.5,112.4 544.5,112.5 545.5,112.7 546.5,112.8 547.5,112.9 548.5,113.0 549.5,113.2 550.5,113.3 551.5,113.4 552.5,113.5 553.5,113.7 554.5,113.8 555.5,113.9 556.5,114.0 557.5,114.1 558.5,114.2 559.5,114.3 560.5,114.4 561.5,114.5 562.5,114.7 563.5,114.8 564.5,114.9 565.5,115.0 566.5,115.1 567.5,115.2 568.5,115.3 569.5,115.4 570.5,115.4 571.5,115.5 572.5,115.6 573.5,115.7 574.5,115.8 575.5,115.9 576.5,116.0 577.5,116.1 578.5,116.2 579.5,116.2 580.5,116.3 581.5,116.4 582.5,116.5 583.5,116.6 584.5,116.7 585.5,116.7 586.5,116.8 587.5,116.9 588.5,117.0 589.5,117.0 590.5,117.1 591.5,117.2 592.5,117.3 593.5,117.3 594.5,117.4 595.5,117.5 596.5,117.5 597.5,117.6 598.5,117.7 599.5,117.7 600.5,117.8 601.5,117.9 602.5,117.9 603.5,118.0 604.5,118.0 605.5,118.1 606.5,118.2 607.5,118.2 608.5,118.3 609.5,118.3 610.5,118.4 611.5,118.4 612.5,118.5 613.5,118.6 614.5,118.6 615.5,118.7 616.5,118.7 617.5,118.8 618.5,118.8 619.5,118.9 620.5,118.9 621.5,119.0 622.5,119.0 623.5,119.1 624.5,119.1 625.5,119.2 626.5,119.2 627.5,119.3 628.5,119.3 629.5,119.3 630.5,119.4 631.5,119.4" fill="none" stroke="#1C9BF2" stroke-width="2.0"/><circle cx="403.3" cy="66.5" r="2.6" fill="#1C9BF2"/><circle cx="403.3" cy="87.4" r="2.6" fill="#1C9BF2"/><circle cx="403.5" cy="134.0" r="2.6" fill="#1C9BF2"/><circle cx="403.5" cy="183.4" r="2.6" fill="#1C9BF2"/><circle cx="403.3" cy="200.0" r="2.6" fill="#1C9BF2"/><circle cx="402.8" cy="196.8" r="2.6" fill="#1C9BF2"/></g><line x1="50.1" y1="210.3" x2="316" y2="210.3" stroke="#8a8a8a" stroke-width="2" stroke-dasharray="5.3 5.00" stroke-dashoffset="0.30"/><line x1="366.2" y1="204.0" x2="631.6" y2="204.0" stroke="#8a8a8a" stroke-width="2" stroke-dasharray="5.0 5.30" stroke-dashoffset="0.10"/><rect x="49.1" y="3" width="267.9" height="223.3" fill="none" stroke="#1c1c1c" stroke-width="2"/><line x1="87.0" y1="226.3" x2="87.0" y2="221.8" stroke="#1c1c1c" stroke-width="1.6"/><line x1="87.0" y1="3" x2="87.0" y2="7.5" stroke="#1c1c1c" stroke-width="1.6"/><line x1="163.1" y1="226.3" x2="163.1" y2="221.8" stroke="#1c1c1c" stroke-width="1.6"/><line x1="163.1" y1="3" x2="163.1" y2="7.5" stroke="#1c1c1c" stroke-width="1.6"/><line x1="239.2" y1="226.3" x2="239.2" y2="221.8" stroke="#1c1c1c" stroke-width="1.6"/><line x1="239.2" y1="3" x2="239.2" y2="7.5" stroke="#1c1c1c" stroke-width="1.6"/><line x1="315.3" y1="226.3" x2="315.3" y2="221.8" stroke="#1c1c1c" stroke-width="1.6"/><line x1="315.3" y1="3" x2="315.3" y2="7.5" stroke="#1c1c1c" stroke-width="1.6"/><line x1="125.0" y1="226.3" x2="125.0" y2="223.5" stroke="#1c1c1c" stroke-width="1.4"/><line x1="125.0" y1="3" x2="125.0" y2="5.8" stroke="#1c1c1c" stroke-width="1.4"/><line x1="201.2" y1="226.3" x2="201.2" y2="223.5" stroke="#1c1c1c" stroke-width="1.4"/><line x1="201.2" y1="3" x2="201.2" y2="5.8" stroke="#1c1c1c" stroke-width="1.4"/><line x1="277.2" y1="226.3" x2="277.2" y2="223.5" stroke="#1c1c1c" stroke-width="1.4"/><line x1="277.2" y1="3" x2="277.2" y2="5.8" stroke="#1c1c1c" stroke-width="1.4"/><line x1="49.1" y1="210.0" x2="53.6" y2="210.0" stroke="#1c1c1c" stroke-width="1.6"/><line x1="317.0" y1="210.0" x2="312.5" y2="210.0" stroke="#1c1c1c" stroke-width="1.6"/><line x1="49.1" y1="127.0" x2="53.6" y2="127.0" stroke="#1c1c1c" stroke-width="1.6"/><line x1="317.0" y1="127.0" x2="312.5" y2="127.0" stroke="#1c1c1c" stroke-width="1.6"/><line x1="49.1" y1="44.0" x2="53.6" y2="44.0" stroke="#1c1c1c" stroke-width="1.6"/><line x1="317.0" y1="44.0" x2="312.5" y2="44.0" stroke="#1c1c1c" stroke-width="1.6"/><line x1="49.1" y1="168.5" x2="51.9" y2="168.5" stroke="#1c1c1c" stroke-width="1.4"/><line x1="317.0" y1="168.5" x2="314.2" y2="168.5" stroke="#1c1c1c" stroke-width="1.4"/><line x1="49.1" y1="85.5" x2="51.9" y2="85.5" stroke="#1c1c1c" stroke-width="1.4"/><line x1="317.0" y1="85.5" x2="314.2" y2="85.5" stroke="#1c1c1c" stroke-width="1.4"/><rect x="365.2" y="3" width="267.40000000000003" height="223.3" fill="none" stroke="#1c1c1c" stroke-width="2"/><line x1="403.3" y1="226.3" x2="403.3" y2="221.8" stroke="#1c1c1c" stroke-width="1.6"/><line x1="403.3" y1="3" x2="403.3" y2="7.5" stroke="#1c1c1c" stroke-width="1.6"/><line x1="479.4" y1="226.3" x2="479.4" y2="221.8" stroke="#1c1c1c" stroke-width="1.6"/><line x1="479.4" y1="3" x2="479.4" y2="7.5" stroke="#1c1c1c" stroke-width="1.6"/><line x1="555.5" y1="226.3" x2="555.5" y2="221.8" stroke="#1c1c1c" stroke-width="1.6"/><line x1="555.5" y1="3" x2="555.5" y2="7.5" stroke="#1c1c1c" stroke-width="1.6"/><line x1="631.6" y1="226.3" x2="631.6" y2="221.8" stroke="#1c1c1c" stroke-width="1.6"/><line x1="631.6" y1="3" x2="631.6" y2="7.5" stroke="#1c1c1c" stroke-width="1.6"/><line x1="441.4" y1="226.3" x2="441.4" y2="223.5" stroke="#1c1c1c" stroke-width="1.4"/><line x1="441.4" y1="3" x2="441.4" y2="5.8" stroke="#1c1c1c" stroke-width="1.4"/><line x1="517.5" y1="226.3" x2="517.5" y2="223.5" stroke="#1c1c1c" stroke-width="1.4"/><line x1="517.5" y1="3" x2="517.5" y2="5.8" stroke="#1c1c1c" stroke-width="1.4"/><line x1="593.5" y1="226.3" x2="593.5" y2="223.5" stroke="#1c1c1c" stroke-width="1.4"/><line x1="593.5" y1="3" x2="593.5" y2="5.8" stroke="#1c1c1c" stroke-width="1.4"/><line x1="365.2" y1="203.9" x2="369.7" y2="203.9" stroke="#1c1c1c" stroke-width="1.6"/><line x1="632.6" y1="203.9" x2="628.1" y2="203.9" stroke="#1c1c1c" stroke-width="1.6"/><line x1="365.2" y1="146.1" x2="369.7" y2="146.1" stroke="#1c1c1c" stroke-width="1.6"/><line x1="632.6" y1="146.1" x2="628.1" y2="146.1" stroke="#1c1c1c" stroke-width="1.6"/><line x1="365.2" y1="88.3" x2="369.7" y2="88.3" stroke="#1c1c1c" stroke-width="1.6"/><line x1="632.6" y1="88.3" x2="628.1" y2="88.3" stroke="#1c1c1c" stroke-width="1.6"/><line x1="365.2" y1="30.5" x2="369.7" y2="30.5" stroke="#1c1c1c" stroke-width="1.6"/><line x1="632.6" y1="30.5" x2="628.1" y2="30.5" stroke="#1c1c1c" stroke-width="1.6"/><line x1="365.2" y1="175.0" x2="368.0" y2="175.0" stroke="#1c1c1c" stroke-width="1.4"/><line x1="632.6" y1="175.0" x2="629.8000000000001" y2="175.0" stroke="#1c1c1c" stroke-width="1.4"/><line x1="365.2" y1="117.2" x2="368.0" y2="117.2" stroke="#1c1c1c" stroke-width="1.4"/><line x1="632.6" y1="117.2" x2="629.8000000000001" y2="117.2" stroke="#1c1c1c" stroke-width="1.4"/><line x1="365.2" y1="59.4" x2="368.0" y2="59.4" stroke="#1c1c1c" stroke-width="1.4"/><line x1="632.6" y1="59.4" x2="629.8000000000001" y2="59.4" stroke="#1c1c1c" stroke-width="1.4"/><circle cx="229.8" cy="37.1" r="1.9" fill="#E99A05"/><circle cx="229.8" cy="51.2" r="1.25" fill="#fff" stroke="#1C9BF2" stroke-width="1.4"/><circle cx="543.3" cy="36.2" r="2.4" fill="#E99A05"/><circle cx="543.3" cy="48.8" r="2.2" fill="#fff" stroke="#1C9BF2" stroke-width="2.0"/>
<text x="25.3" y="12.4" font-size="13.6" text-anchor="start" >(a)</text><text x="339.0" y="12.2" font-size="13.6" text-anchor="start" >(b)</text><text x="43.9" y="214.0" font-size="11.3" text-anchor="end" >0.000</text><text x="43.9" y="131.0" font-size="11.3" text-anchor="end" >0.001</text><text x="43.9" y="48.0" font-size="11.3" text-anchor="end" >0.002</text><text x="360.1" y="207.322" font-size="11.3" text-anchor="end" >0.0000</text><text x="360.1" y="150.1" font-size="11.3" text-anchor="end" >0.0005</text><text x="360.1" y="92.3" font-size="11.3" text-anchor="end" >0.0010</text><text x="360.1" y="34.5" font-size="11.3" text-anchor="end" >0.0015</text><text x="87.0" y="240.8" font-size="11.3" text-anchor="middle" >0</text><text x="403.3" y="240.8" font-size="11.3" text-anchor="middle" >0</text><text x="163.1" y="240.8" font-size="11.3" text-anchor="middle" >200</text><text x="479.4" y="240.8" font-size="11.3" text-anchor="middle" >200</text><text x="239.2" y="240.8" font-size="11.3" text-anchor="middle" >400</text><text x="555.5" y="240.8" font-size="11.3" text-anchor="middle" >400</text><text x="315.3" y="240.8" font-size="11.3" text-anchor="middle" >600</text><text x="631.6" y="240.8" font-size="11.3" text-anchor="middle" >600</text><text x="121.6" y="260.6" font-size="12.3" text-anchor="start" >Pump-Push Delay (ps)</text><text x="438.1" y="260.6" font-size="12.3" text-anchor="start" >Pump-Push Delay (ps)</text><text x="0" y="0" font-size="12" transform="translate(12.3,125.5) rotate(-90)">δJ/J</text><text x="213.8" y="20.8" font-size="11.45" text-anchor="start" >P3HT:ZnO bilayer</text><text x="245.1" y="40.8" font-size="11.3" text-anchor="start" >600 nm</text><text x="245.1" y="55.1" font-size="11.3" text-anchor="start" >950 nm</text><text x="535.6" y="22.3" font-size="11.5" text-anchor="start" >P3HT:PCBM BHJ</text><text x="557.2" y="39.5" font-size="10.3" text-anchor="start" >600 nm</text><text x="557.2" y="52.0" font-size="10.3" text-anchor="start" >800 nm</text>
</svg>
</body></html>
